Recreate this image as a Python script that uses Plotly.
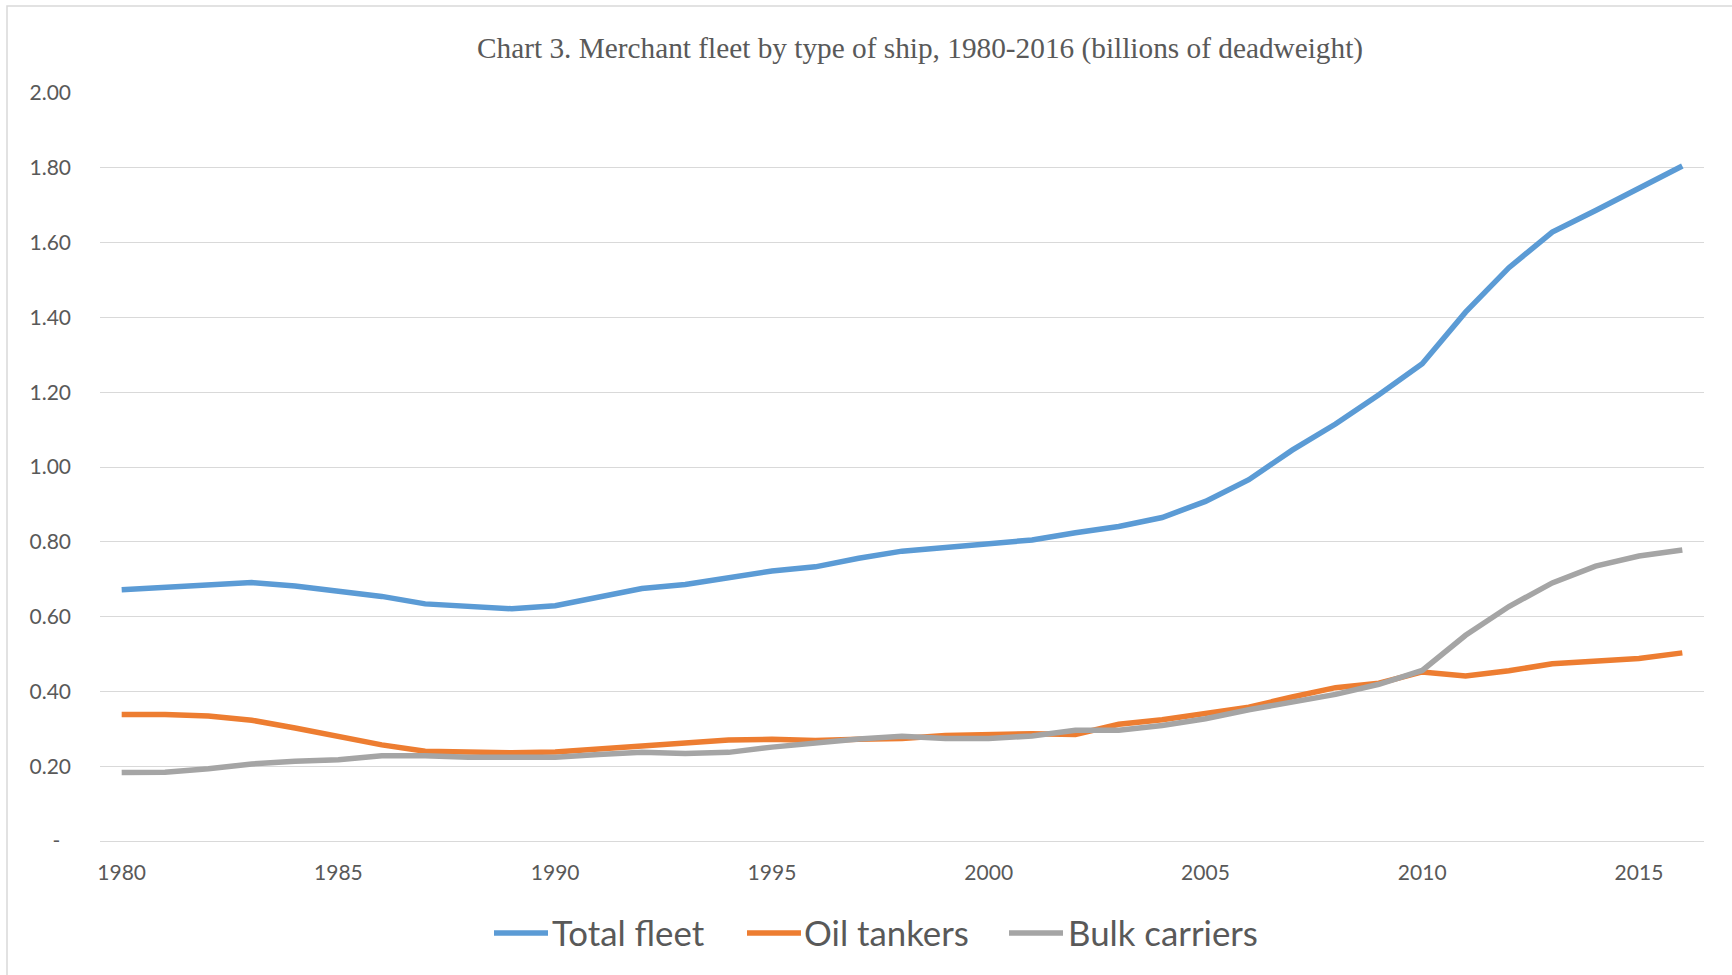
import plotly.graph_objects as go

# Merchant fleet by type of ship, billions of deadweight tons
years = list(range(1980, 2017))

total_fleet = [
    0.672, 0.679, 0.686, 0.691, 0.682, 0.668, 0.654, 0.634, 0.627, 0.621, 0.629,
    0.652, 0.675, 0.686, 0.703, 0.722, 0.733, 0.756, 0.775, 0.786, 0.795,
    0.805, 0.824, 0.841, 0.865, 0.908, 0.966, 1.045, 1.115, 1.193, 1.276,
    1.414, 1.533, 1.628, 1.686, 1.744, 1.805,
]
oil_tankers = [
    0.338, 0.338, 0.334, 0.323, 0.302, 0.280, 0.257, 0.240, 0.238, 0.236, 0.238,
    0.246, 0.256, 0.262, 0.270, 0.272, 0.269, 0.272, 0.274, 0.282, 0.284,
    0.287, 0.285, 0.312, 0.324, 0.342, 0.358, 0.385, 0.410, 0.422, 0.452,
    0.441, 0.455, 0.474, 0.480, 0.488, 0.503,
]
bulk_carriers = [
    0.183, 0.184, 0.193, 0.206, 0.213, 0.217, 0.228, 0.228, 0.224, 0.224, 0.224,
    0.231, 0.237, 0.234, 0.237, 0.251, 0.263, 0.273, 0.280, 0.274, 0.274,
    0.281, 0.296, 0.296, 0.309, 0.327, 0.351, 0.372, 0.392, 0.419, 0.456,
    0.550, 0.627, 0.690, 0.735, 0.762, 0.778,
]

series_names = ["Total fleet", "Oil tankers", "Bulk carriers"]
series_values = [total_fleet, oil_tankers, bulk_carriers]
series_colors = ["#5B9BD5", "#ED7D31", "#A5A5A5"]

x_tick_years = [1980, 1985, 1990, 1995, 2000, 2005, 2010, 2015]
y_tick_values = [0, 0.2, 0.4, 0.6, 0.8, 1.0, 1.2, 1.4, 1.6, 1.8, 2.0]
y_tick_labels = ["-\u00a0\u00a0", "0.20", "0.40", "0.60", "0.80", "1.00",
                 "1.20", "1.40", "1.60", "1.80", "2.00"]

title_text = "Chart 3. Merchant fleet by type of ship, 1980-2016 (billions of deadweight)"

# page geometry (pixels)
W, H = 1732, 975
M_L, M_R, M_T, M_B = 100, 28, 93, 134
PW = W - M_L - M_R
PH = H - M_T - M_B
PLOT_BOTTOM = H - M_B


def px_x(px):
    return (px - M_L) / PW


def px_y(py):
    return (PLOT_BOTTOM - py) / PH


TEXT_GREY = "#595959"
GRID_GREY = "#D9D9D9"
SANS = "Lato, Open Sans, sans-serif"

fig = go.Figure()
for name, vals, color in zip(series_names, series_values, series_colors):
    fig.add_trace(go.Scatter(
        x=years, y=vals, name=name, mode="lines",
        line=dict(color=color, width=5.5),
        showlegend=False,
    ))

shapes = []
annotations = []

# outer chart border (open at right/bottom page edges)
shapes.append(dict(
    type="rect", xref="paper", yref="paper",
    x0=px_x(7), x1=px_x(W + 20), y0=px_y(6), y1=px_y(H + 20),
    line=dict(color=GRID_GREY, width=1.5), fillcolor="rgba(0,0,0,0)", layer="below",
))

# title
annotations.append(dict(
    text=title_text, xref="paper", yref="paper",
    x=px_x(920), y=px_y(48), xanchor="center", yanchor="middle",
    showarrow=False,
    font=dict(family="Liberation Serif, Times New Roman, serif", size=29.3, color=TEXT_GREY),
))

# legend: line sample followed by its label
legend_line_x = [(494, 548), (747, 801), (1009, 1063)]
legend_text_x = [550, 802, 1066]
legend_y = 933
for name, color, (lx0, lx1), tx in zip(series_names, series_colors, legend_line_x, legend_text_x):
    shapes.append(dict(
        type="line", xref="paper", yref="paper",
        x0=px_x(lx0), x1=px_x(lx1), y0=px_y(legend_y), y1=px_y(legend_y),
        line=dict(color=color, width=5.5),
    ))
    annotations.append(dict(
        text=name, xref="paper", yref="paper",
        x=px_x(tx), y=px_y(legend_y - 1), xanchor="left", yanchor="middle",
        showarrow=False,
        font=dict(family=SANS, size=34.8, color=TEXT_GREY),
    ))

fig.update_layout(
    width=W, height=H,
    margin=dict(l=M_L, r=M_R, t=M_T, b=M_B, pad=0),
    paper_bgcolor="white", plot_bgcolor="white",
    shapes=shapes, annotations=annotations,
    showlegend=False,
    font=dict(family=SANS, color=TEXT_GREY),
)

fig.update_xaxes(
    range=[1979.5, 2016.5],
    tickmode="array", tickvals=x_tick_years, ticktext=[str(y) for y in x_tick_years],
    showgrid=False, zeroline=False,
    showline=True, linecolor=GRID_GREY, linewidth=1.3,
    ticks="", ticklabelstandoff=13,
    tickfont=dict(family=SANS, size=21, color=TEXT_GREY),
)
fig.update_yaxes(
    range=[0, 2.0],
    tickmode="array", tickvals=y_tick_values, ticktext=y_tick_labels,
    showgrid=True, gridcolor=GRID_GREY, gridwidth=1.3,
    zeroline=False, showline=False,
    ticks="", ticklabelstandoff=28,
    tickfont=dict(family=SANS, size=21, color=TEXT_GREY),
)

fig.write_html("out.html")
